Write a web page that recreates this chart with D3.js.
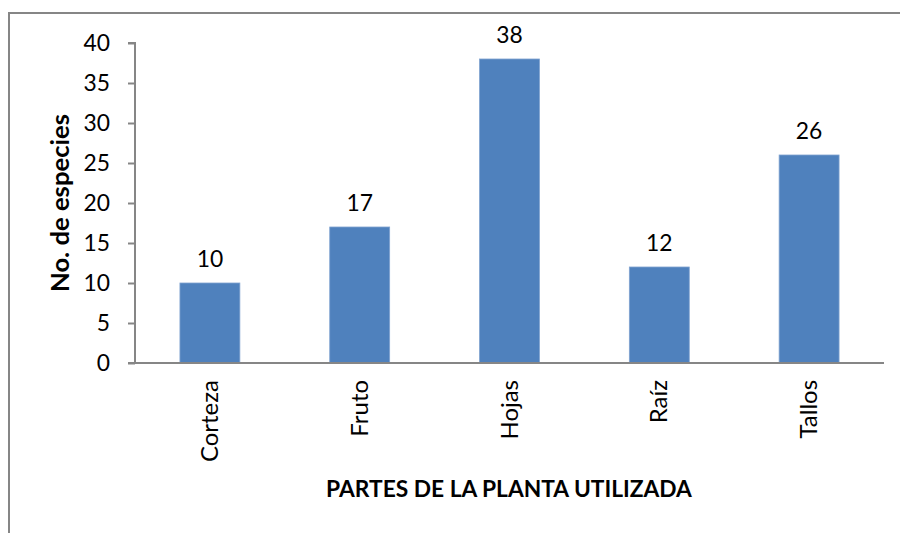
<!DOCTYPE html>
<html><head><meta charset="utf-8">
<script src="https://cdn.jsdelivr.net/npm/d3@7"></script>
<style>body{margin:0;background:#fff;} svg{display:block;font-family:Lato,'Open Sans',sans-serif;}</style>
</head><body>
<svg id="c" width="900" height="533"></svg>
<script>
const categories = ["Corteza","Fruto","Hojas","Raíz","Tallos"];
const values = [10,17,38,12,26];
const yTicks = [0,5,10,15,20,25,30,35,40];
const yTitle = "No. de especies";
const xTitle = "PARTES DE LA PLANTA UTILIZADA";

const svg = d3.select("#c");
const m = {left:135, right:884, top:43, bottom:363};
const x = d3.scaleBand().domain(categories).range([m.left,m.right]).paddingInner(0.6).paddingOuter(0.3);
const y = d3.scaleLinear().domain([0,40]).range([m.bottom,m.top]);

// fit a font size so that a sample string has a target width
function fitSize(str, target, weight){
  const t = svg.append("text").attr("font-size",100).attr("font-weight",weight||"normal").text(str);
  const w = t.node().getComputedTextLength(); t.remove();
  return 100*target/w;
}
const tickFs = fitSize("40", 26.5);
const catFs = fitSize("Corteza", 82);
const yTitleFs = fitSize(yTitle, 178, "bold");
const xTitleFs = fitSize(xTitle, 366, "bold");

svg.append("rect").attr("x",9).attr("y",13).attr("width",1000).attr("height",700)
  .attr("fill","none").attr("stroke","#868686").attr("stroke-width",2);

svg.selectAll("rect.bar").data(values).join("rect").attr("class","bar")
  .attr("x",(d,i)=>x(categories[i])).attr("width",x.bandwidth())
  .attr("y",d=>y(d)).attr("height",d=>y(0)-y(d))
  .attr("fill","#4F81BD").attr("stroke","#7FA2D0").attr("stroke-width",0.8);

const ya = svg.append("g").attr("transform",`translate(${m.left},0)`)
  .call(d3.axisLeft(y).tickValues(yTicks).tickSize(7).tickPadding(18));
ya.select(".domain").attr("stroke","#868686").attr("stroke-width",2).attr("d",`M-7,${y(40)}H0V${y(0)}`);
ya.selectAll(".tick line").attr("stroke","#868686").attr("stroke-width",2);
ya.selectAll(".tick text").attr("font-size",tickFs).attr("fill","#000").attr("font-family","Lato");

svg.append("line").attr("x1",m.left-7).attr("x2",m.right).attr("y1",y(0)).attr("y2",y(0))
  .attr("stroke","#868686").attr("stroke-width",2);

svg.selectAll("text.cat").data(categories).join("text").attr("class","cat")
  .attr("transform",d=>`translate(${x(d)+x.bandwidth()/2+8},380) rotate(-90)`)
  .attr("text-anchor","end").attr("font-size",catFs).text(d=>d);

svg.selectAll("text.val").data(values).join("text").attr("class","val")
  .attr("x",(d,i)=>x(categories[i])+x.bandwidth()/2).attr("y",d=>y(d)-16)
  .attr("text-anchor","middle").attr("font-size",tickFs).text(d=>d);

svg.append("text").attr("transform",`translate(69,203) rotate(-90)`).attr("text-anchor","middle")
  .attr("font-size",yTitleFs).attr("font-weight","bold").text(yTitle);
svg.append("text").attr("x",509).attr("y",497).attr("text-anchor","middle")
  .attr("font-size",xTitleFs).attr("font-weight","bold").text(xTitle);
</script>
</body></html>
